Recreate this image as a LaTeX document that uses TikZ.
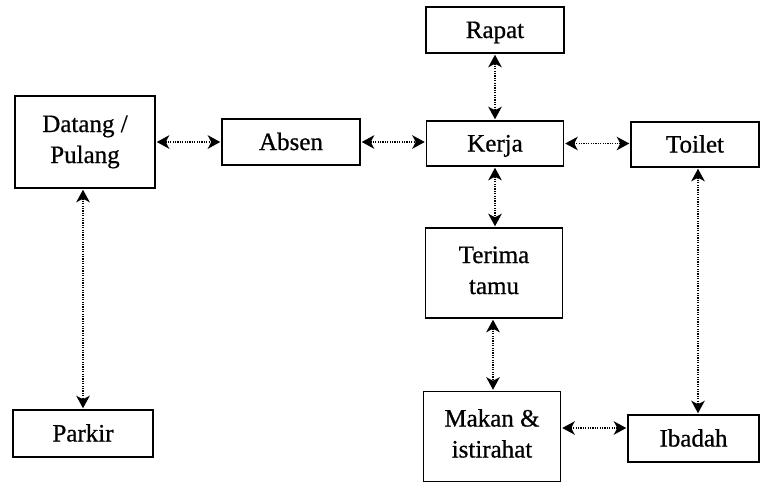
\documentclass[tikz,border=0pt]{standalone}
\usepackage{fontspec}
\setmainfont[FakeBold=0.7]{Liberation Serif}
\usetikzlibrary{arrows.meta}
% struts that fix where the lines of text sit inside the boxes
\newcommand\oneline[1]{\rule[-8pt]{0pt}{32pt}#1}
\newcommand\twolines[2]{\rule[-10pt]{0pt}{31pt}#1\\\rule[-10pt]{0pt}{31pt}#2}
\begin{document}
\begin{tikzpicture}[x=1pt,y=-1pt,
  box/.style={draw, line width=1.5pt, align=center, inner sep=0pt,
    font=\fontsize{25}{31}\selectfont},
  link/.style={line width=1.3pt, dash pattern=on 1.2pt off 1.2pt,
    {Stealth[length=12.5pt,width=13.5pt,inset=3.5pt]}-{Stealth[length=12.5pt,width=13.5pt,inset=3.5pt]},
    shorten <=1pt, shorten >=1pt}]
\useasboundingbox (0,0) rectangle (760,483);

% activity boxes
\node[box, minimum width=140pt, minimum height=92pt] (datang) at (85,142) {\twolines{Datang /}{Pulang}};
\node[box, minimum width=138pt, minimum height=46pt] (absen) at (291,142) {\oneline{Absen}};
\node[box, minimum width=137pt, minimum height=45pt] (kerja) at (495,143.5) {\oneline{Kerja}};
\node[box, minimum width=138pt, minimum height=46pt] (rapat) at (495,30) {\oneline{Rapat}};
\node[box, minimum width=128pt, minimum height=45pt] (toilet) at (695,144.5) {\oneline{Toilet}};
\node[box, minimum width=137pt, minimum height=90pt] (terima) at (494,273) {\twolines{Terima}{tamu}};
\node[box, minimum width=137pt, minimum height=90pt] (makan) at (492,436.5) {\twolines{Makan \&}{istirahat}};
\node[box, minimum width=131pt, minimum height=47pt] (ibadah) at (693.5,438.5) {\oneline{Ibadah}};
\node[box, minimum width=140pt, minimum height=47pt] (parkir) at (83,433.5) {\oneline{Parkir}};

% two-way flows
\draw[link] (absen.west -| datang.east) -- (absen.west);
\draw[link] (absen.east) -- (absen.east -| kerja.west);
\draw[link] (kerja.east) -- (kerja.east -| toilet.west);
\draw[link] (rapat.south) -- (kerja.north);
\draw[link] (kerja.south) -- (kerja.south |- terima.north);
\draw[link] ([xshift=-1pt]terima.south) -- ([xshift=-1pt]terima.south |- makan.north);
\draw[link] ([xshift=3pt]toilet.south) -- ([xshift=3pt]toilet.south |- ibadah.north);
\draw[link] (parkir.north |- datang.south) -- (parkir.north);
\draw[link] ([yshift=8.5pt]makan.east) -- ([yshift=8.5pt]makan.east -| ibadah.west);
\end{tikzpicture}
\end{document}
